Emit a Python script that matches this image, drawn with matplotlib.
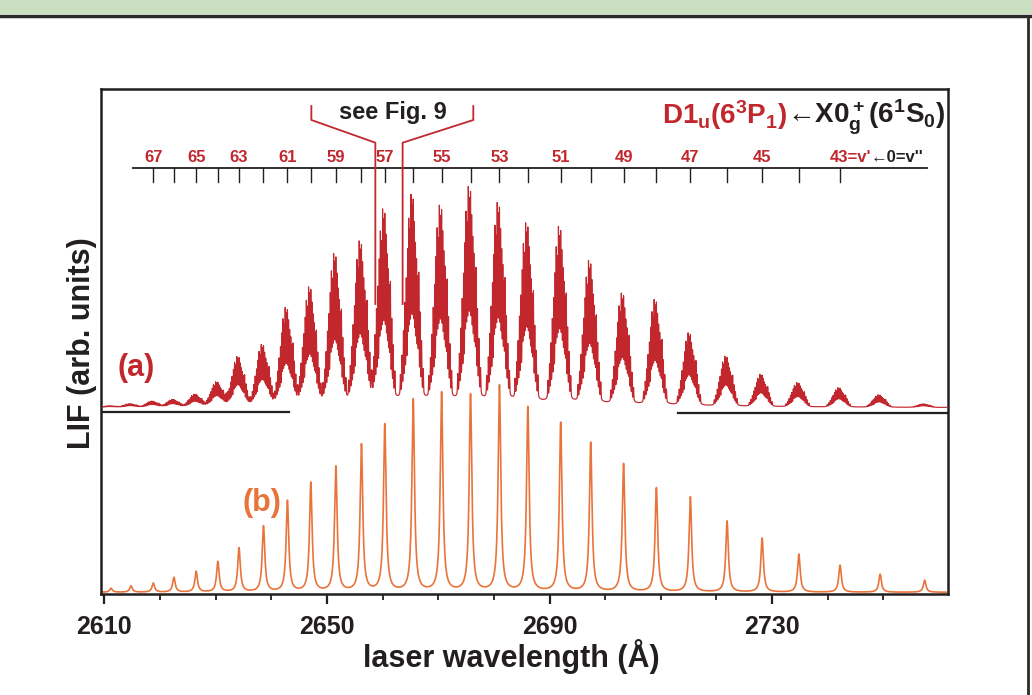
import matplotlib
matplotlib.use("Agg")
import matplotlib.pyplot as plt
import numpy as np
from matplotlib.lines import Line2D
from matplotlib.patches import Rectangle

RED = "#c1272d"
ORANGE = "#e8743b"
INK = "#231f20"
FONT = ["Liberation Sans Narrow", "Liberation Sans", "DejaVu Sans"]

# vibrational progression D1u(v') <- X0g+(v''=0), band positions (Angstrom)
v_prime = list(range(69, 40, -1))
band_pos = [2611.2, 2614.8, 2618.8, 2622.5, 2626.5, 2630.4, 2634.2, 2638.6,
            2642.9, 2647.1, 2651.6, 2656.2, 2660.4, 2665.5, 2670.6, 2675.8,
            2681.0, 2686.1, 2692.0, 2697.4, 2703.3, 2709.2, 2715.3, 2721.9,
            2728.2, 2734.8, 2742.2, 2749.4, 2757.4]
# (a) measured LIF, band maxima (arb. units)
lif_exp = [1.5, 3.5, 6, 7.5, 12.5, 24.5, 49.5, 61, 97.5, 117.5, 150.5, 162.5,
           194.5, 209.5, 198.5, 217.5, 201.5, 181.5, 178.5, 144.5, 112.5,
           106.5, 73.5, 50.5, 32.5, 24.5, 19.5, 12.5, 3.5]
# (b) simulated band intensities (arb. units)
lif_sim = [4, 6.3, 9, 14.7, 20.7, 30.3, 44, 65.7, 91, 109, 125, 147, 167,
           192, 199, 197, 206, 184.5, 169, 149, 128, 104, 95, 71, 54, 38, 27,
           18, 12]
# rotational sub-structure of one band: offset from band origin (A), rel. intensity
sub_offset = [-2.3, -2.0, -1.75, -1.5, -1.25, -1.0, -0.8, -0.6, -0.4, -0.2, 0.0,
              0.2, 0.4, 0.6, 0.8, 1.0, 1.25, 1.5, 1.8]
sub_rel = [0.12, 0.22, 0.35, 0.5, 0.62, 0.75, 0.9, 0.8, 1.0, 0.92, 0.97, 0.85,
           0.75, 0.68, 0.6, 0.66, 0.45, 0.3, 0.15]
comb_labels = list(range(67, 44, -2))
fig9_lines = [2658.7, 2663.6]

X_MIN, X_MAX = 2609.4, 2761.6
Y_MAX = 505
SIM_BASE, EXP_BASE = 1.7, 186.5
COMB_Y = 426.3


def lorentz(x, x0, g):
    return g * g / ((x - x0) ** 2 + g * g)


def band_profile(x, p):
    prof = sum(r * lorentz(x, p + o, 0.045) for o, r in zip(sub_offset, sub_rel))
    return prof + 0.16 * lorentz(x, p - 0.2, 1.1)


fig = plt.figure(figsize=(10.32, 6.95), dpi=100)
fig.patches.append(Rectangle((0, 1 - 14 / 695), 1, 14 / 695, transform=fig.transFigure,
                             facecolor="#cadfc0", edgecolor="none"))
fig.lines.append(Line2D([0, 1], [1 - 15.5 / 695] * 2, transform=fig.transFigure,
                        color="#2b2b2b", lw=2.5))
fig.lines.append(Line2D([1028 / 1032] * 2, [0, 1 - 15.5 / 695], transform=fig.transFigure,
                        color="#2b2b2b", lw=2.0))

ax = fig.add_axes([101 / 1032, 1 - 594 / 695, 847 / 1032, 505 / 695])
ax.set_xlim(X_MIN, X_MAX)
ax.set_ylim(0, Y_MAX)

x = np.arange(X_MIN + 0.3, X_MAX - 0.3, 0.004)

# (b) simulation
sim = np.full_like(x, SIM_BASE)
for p, h in zip(band_pos, lif_sim):
    sim += h * lorentz(x, p, 0.28)
ax.plot(x, sim, color=ORANGE, lw=1.2, zorder=2)

# (a) experiment
tmpl_max = band_profile(np.linspace(-4, 4, 8001), 0.0).max()
exp = np.full_like(x, EXP_BASE)
for p, h in zip(band_pos, lif_exp):
    exp += h * band_profile(x, p) / tmpl_max
ax.plot(x, exp, color=RED, lw=0.85, zorder=3)

# separator between (a) and (b)
ax.plot([X_MIN, 2643.1], [182, 182], color=INK, lw=1.6, zorder=4)
ax.plot([2713.1, X_MAX], [181, 181], color=INK, lw=1.6, zorder=4)

# v' comb
ax.plot([2615.2, 2757.9], [COMB_Y, COMB_Y], color=INK, lw=1.3)
for v, p in zip(v_prime, band_pos):
    if 43 <= v <= 67:
        ax.plot([p, p], [COMB_Y, COMB_Y - 14], color=INK, lw=1.0)
    if v in comb_labels:
        ax.text(p, COMB_Y + 3, str(v), color=RED, fontsize=12, fontweight="bold",
                family=FONT, ha="center", va="bottom")
lab43 = ax.text(band_pos[v_prime.index(43)] - 1.9, COMB_Y + 3, "43=v'", color=RED,
                fontsize=12, fontweight="bold", family=FONT, ha="left", va="bottom")
ax.annotate("\u21900=v''", xy=(1, COMB_Y + 3), xycoords=(lab43, "data"), color=INK,
            fontsize=12, fontweight="bold", family=FONT, ha="left", va="bottom")

# "see Fig. 9" bracket
for xv, xt in zip(fig9_lines, [2647.2, 2676.3]):
    ax.plot([xt, xt, xv, xv], [488, 474, 451.3, 290], color=RED, lw=1.3, zorder=4)
ax.text(2661.8, 481, "see Fig. 9", color=INK, fontsize=17, fontweight="bold",
        family=FONT, ha="center", va="center")

# title
t_black = ax.text(0.9965, 0.931,
                  "\u2190X0$\\mathregular{^+_g}$(6$\\mathregular{^1}$S$\\mathregular{_0}$)",
                  transform=ax.transAxes, color=INK, fontsize=20, fontweight="bold",
                  family=FONT, ha="right", va="baseline")
ax.annotate("D1$\\mathregular{_u}$(6$\\mathregular{^3}$P$\\mathregular{_1}$)", xy=(0, 0.931),
            xycoords=(t_black, "axes fraction"), color=RED, fontsize=20,
            fontweight="bold", family=FONT, ha="right", va="baseline")

ax.text(2615.7, 226, "(a)", color=RED, fontsize=22, fontweight="bold", family=FONT,
        ha="center", va="center")
ax.text(2638.4, 91, "(b)", color=ORANGE, fontsize=22, fontweight="bold", family=FONT,
        ha="center", va="center")

for s in ax.spines.values():
    s.set_linewidth(1.8)
    s.set_color(INK)
ax.set_yticks([])
ax.set_xticks([2610, 2650, 2690, 2730])
ax.set_xticks(np.arange(2620, 2760, 10), minor=True)
ax.tick_params(axis="x", which="major", direction="out", length=7, width=1.6,
               color=INK, pad=8)
ax.tick_params(axis="x", which="minor", direction="out", length=4, width=1.3, color=INK)
for lbl in ax.get_xticklabels():
    lbl.set_fontsize(18)
    lbl.set_fontweight("bold")
    lbl.set_family(FONT)
    lbl.set_color(INK)

fig.text(82 / 1032, 1 - 343 / 695, "LIF (arb. units)", rotation=90, fontsize=22,
         fontweight="bold", family=FONT, color=INK, ha="center", va="center")
fig.text(511 / 1032, 1 - 657 / 695, "laser wavelength (\u00c5)", fontsize=22,
         fontweight="bold", family=FONT, color=INK, ha="center", va="center")

fig.savefig("out.png", dpi=100)
